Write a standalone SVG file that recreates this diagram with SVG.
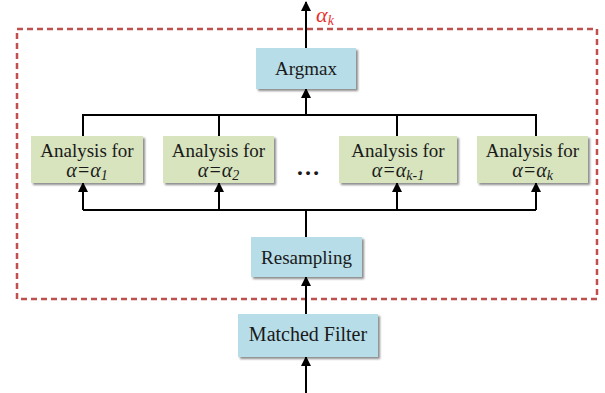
<svg xmlns="http://www.w3.org/2000/svg" width="605" height="393" viewBox="0 0 605 393">
<defs>
<marker id="ah" viewBox="0 0 10 10" refX="9" refY="5" markerWidth="10" markerHeight="10" markerUnits="userSpaceOnUse" orient="auto">
<path d="M0,0 L10,5 L0,10 Z" fill="#000"/>
</marker>
<filter id="sh" x="-10%" y="-10%" width="130%" height="140%">
<feDropShadow dx="2" dy="2" stdDeviation="1.2" flood-color="#000" flood-opacity="0.45"/>
</filter>
</defs>
<style>
.blue{fill:#b7dde8;filter:url(#sh)}
.green{fill:#d7e4bd;filter:url(#sh)}
.t{font-family:"Liberation Serif","Times New Roman",serif;font-size:19px;fill:#1a1a1a;text-anchor:middle}
.i{font-style:italic;font-size:20px}
.ln{stroke:#000;stroke-width:2;fill:none}
.arr{stroke:#000;stroke-width:2;fill:none;marker-end:url(#ah)}
</style>
<rect x="17" y="29" width="580" height="270" fill="none" stroke="#c0504d" stroke-width="2.5" stroke-dasharray="6,4"/>
<g id="connectors">
<line class="arr" x1="306" y1="48" x2="306" y2="2"/>
<polyline class="ln" points="83,136 83,115 536,115 536,136"/>
<line class="ln" x1="219" y1="115" x2="219" y2="136"/>
<line class="ln" x1="397" y1="115" x2="397" y2="136"/>
<line class="arr" x1="306" y1="115" x2="306" y2="89"/>
<line class="ln" x1="306" y1="237" x2="306" y2="210"/>
<polyline class="ln" points="83,210 536,210"/>
<line class="arr" x1="83" y1="210" x2="83" y2="183"/>
<line class="arr" x1="219" y1="210" x2="219" y2="183"/>
<line class="arr" x1="397" y1="210" x2="397" y2="183"/>
<line class="arr" x1="536" y1="210" x2="536" y2="183"/>
<line class="arr" x1="306" y1="314" x2="306" y2="277"/>
<line class="arr" x1="306" y1="393" x2="306" y2="357"/>
</g>
<text class="t i" x="325" y="22" style="fill:#e8302c;font-size:22px">α<tspan font-size="14" dy="3">k</tspan></text>
<g id="argmax">
<rect class="blue" x="256" y="48" width="100" height="41"/>
<text class="t" x="306" y="75">Argmax</text>
</g>
<g id="a1">
<rect class="green" x="31" y="136" width="112" height="47"/>
<text class="t" x="87" y="157">Analysis for</text>
<text class="t i" x="87" y="177">α=α<tspan font-size="14" dy="3">1</tspan></text>
</g>
<g id="a2">
<rect class="green" x="163" y="136" width="111" height="47"/>
<text class="t" x="218.5" y="157">Analysis for</text>
<text class="t i" x="218.5" y="177">α=α<tspan font-size="14" dy="3">2</tspan></text>
</g>
<text class="t" x="308" y="175" style="font-size:24px;font-weight:bold">…</text>
<g id="ak1">
<rect class="green" x="339" y="136" width="118" height="47"/>
<text class="t" x="398" y="157">Analysis for</text>
<text class="t i" x="398" y="177">α=α<tspan font-size="14" dy="3">k-1</tspan></text>
</g>
<g id="ak">
<rect class="green" x="477" y="136" width="111" height="47"/>
<text class="t" x="532.5" y="157">Analysis for</text>
<text class="t i" x="532.5" y="177">α=α<tspan font-size="14" dy="3">k</tspan></text>
</g>
<g id="resampling">
<rect class="blue" x="251" y="237" width="111" height="40"/>
<text class="t" x="306.5" y="264">Resampling</text>
</g>
<g id="matched">
<rect class="blue" x="238" y="314" width="140" height="43"/>
<text class="t" x="308" y="341" style="font-size:20px">Matched Filter</text>
</g>
</svg>
